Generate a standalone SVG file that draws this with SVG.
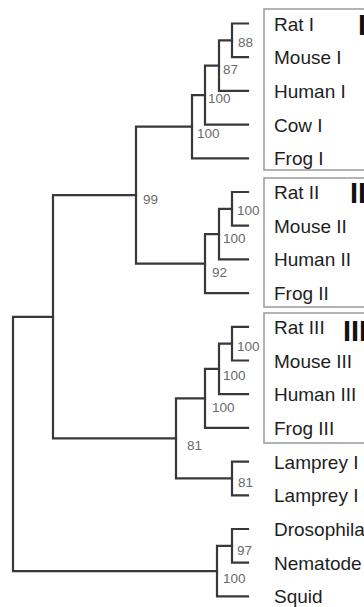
<svg xmlns="http://www.w3.org/2000/svg" width="364" height="607" viewBox="0 0 364 607">
  <style>
    .edge { fill: none; stroke: #383838; stroke-width: 2.2; stroke-linejoin: miter; stroke-linecap: square; }
    .box { fill: none; stroke: #9a9a9a; stroke-width: 1.5; }
    .taxon { font-family: "Liberation Sans", Arial, sans-serif; font-size: 19px; fill: #1e1e1e; }
    .boot { font-family: "Liberation Sans", Arial, sans-serif; font-size: 13.5px; fill: #6a6a6a; }
    .para { font-family: "Liberation Sans", Arial, sans-serif; font-size: 29px; font-weight: bold; fill: #111; }
  </style>
  <rect width="364" height="607" fill="#fff"/>

  <!-- paralog group boxes (right edge runs off the canvas) -->
  <g id="group-I">
    <rect class="box" x="264" y="9" width="140" height="161"/>
    <text class="para" x="358" y="35">I</text>
  </g>
  <g id="group-II">
    <rect class="box" x="264" y="178" width="140" height="129"/>
    <text class="para" x="350" y="203">II</text>
  </g>
  <g id="group-III">
    <rect class="box" x="264" y="313" width="140" height="130"/>
    <text class="para" x="343" y="341">III</text>
  </g>

  <!-- tree branches -->
  <g id="connectors">
    <!-- group I -->
    <path class="edge" d="M248,23.5 H232 V57.2 H248"/>
    <path class="edge" d="M232,40.35 H219 V90.9 H248"/>
    <path class="edge" d="M219,65.6 H205 V124.6 H248"/>
    <path class="edge" d="M205,95.1 H192 V158.3 H248"/>
    <!-- group II -->
    <path class="edge" d="M248,192 H232 V225.7 H248"/>
    <path class="edge" d="M232,208.85 H219 V259.4 H248"/>
    <path class="edge" d="M219,234.1 H205 V293.1 H248"/>
    <!-- join of groups I and II -->
    <path class="edge" d="M192,126.7 H136 V263.6 H205"/>
    <!-- group III -->
    <path class="edge" d="M248,326.8 H232 V360.5 H248"/>
    <path class="edge" d="M232,343.65 H219 V394.2 H248"/>
    <path class="edge" d="M219,368.9 H205 V427.9 H248"/>
    <!-- lampreys -->
    <path class="edge" d="M248,461.6 H232 V495.3 H248"/>
    <!-- group III + lampreys -->
    <path class="edge" d="M205,398.4 H176 V478.45 H232"/>
    <!-- vertebrate node -->
    <path class="edge" d="M136,195.2 H53 V438.4 H176"/>
    <!-- invertebrates -->
    <path class="edge" d="M248,529 H232 V562.7 H248"/>
    <path class="edge" d="M232,545.85 H217 V596.4 H248"/>
    <!-- root -->
    <path class="edge" d="M53,316.8 H13 V571.1 H217"/>
  </g>

  <!-- bootstrap support values -->
  <g id="support">
    <text class="boot" x="238" y="47">88</text>
    <text class="boot" x="223" y="74">87</text>
    <text class="boot" x="208" y="103">100</text>
    <text class="boot" x="197" y="138">100</text>
    <text class="boot" x="237" y="215">100</text>
    <text class="boot" x="223" y="243">100</text>
    <text class="boot" x="212" y="277">92</text>
    <text class="boot" x="143" y="204">99</text>
    <text class="boot" x="237" y="351">100</text>
    <text class="boot" x="223" y="380">100</text>
    <text class="boot" x="212" y="412">100</text>
    <text class="boot" x="187" y="450">81</text>
    <text class="boot" x="238" y="487">81</text>
    <text class="boot" x="237" y="555">97</text>
    <text class="boot" x="223" y="583">100</text>
  </g>

  <!-- taxa -->
  <g id="rat-1"><text class="taxon" x="274" y="30.5">Rat I</text></g>
  <g id="mouse-1"><text class="taxon" x="274" y="64.2">Mouse I</text></g>
  <g id="human-1"><text class="taxon" x="274" y="97.9">Human I</text></g>
  <g id="cow-1"><text class="taxon" x="274" y="131.6">Cow I</text></g>
  <g id="frog-1"><text class="taxon" x="274" y="165.3">Frog I</text></g>
  <g id="rat-2"><text class="taxon" x="274" y="199">Rat II</text></g>
  <g id="mouse-2"><text class="taxon" x="274" y="232.7">Mouse II</text></g>
  <g id="human-2"><text class="taxon" x="274" y="266.4">Human II</text></g>
  <g id="frog-2"><text class="taxon" x="274" y="300.1">Frog II</text></g>
  <g id="rat-3"><text class="taxon" x="274" y="333.8">Rat III</text></g>
  <g id="mouse-3"><text class="taxon" x="274" y="367.5">Mouse III</text></g>
  <g id="human-3"><text class="taxon" x="274" y="401.2">Human III</text></g>
  <g id="frog-3"><text class="taxon" x="274" y="434.9">Frog III</text></g>
  <g id="lamprey-1"><text class="taxon" x="274" y="468.6">Lamprey I</text></g>
  <g id="lamprey-2"><text class="taxon" x="274" y="502.3">Lamprey I</text></g>
  <g id="drosophila"><text class="taxon" x="274" y="536">Drosophila</text></g>
  <g id="nematode"><text class="taxon" x="274" y="569.7">Nematode</text></g>
  <g id="squid"><text class="taxon" x="274" y="603.4">Squid</text></g>
</svg>
